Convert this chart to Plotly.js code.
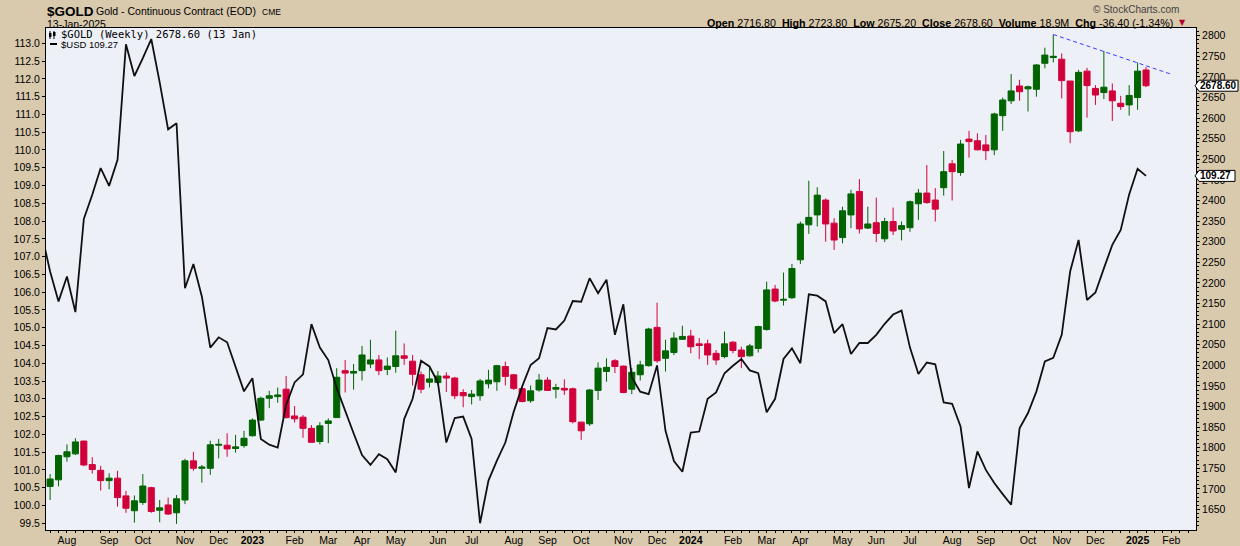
<!DOCTYPE html>
<html><head><meta charset="utf-8">
<script src="https://cdn.plot.ly/plotly-3.0.1.min.js"></script>
<style>html,body{margin:0;padding:0;background:#D9C9AD;}#chart{width:1240px;height:546px;}</style>
</head><body><div id="chart"></div>
<script>
// Weekly bars (Monday dates). First date only carries a $USD value (clipped at the left edge).
const weekDates = [
'2022-07-11','2022-07-18','2022-07-25','2022-08-01','2022-08-08','2022-08-15','2022-08-22','2022-08-29',
'2022-09-05','2022-09-12','2022-09-19','2022-09-26','2022-10-03','2022-10-10','2022-10-17','2022-10-24','2022-10-31',
'2022-11-07','2022-11-14','2022-11-21','2022-11-28','2022-12-05','2022-12-12','2022-12-19','2022-12-26',
'2023-01-02','2023-01-09','2023-01-16','2023-01-23','2023-01-30','2023-02-06','2023-02-13','2023-02-20','2023-02-27',
'2023-03-06','2023-03-13','2023-03-20','2023-03-27','2023-04-03','2023-04-10','2023-04-17','2023-04-24',
'2023-05-01','2023-05-08','2023-05-15','2023-05-22','2023-05-29','2023-06-05','2023-06-12','2023-06-19','2023-06-26',
'2023-07-03','2023-07-10','2023-07-17','2023-07-24','2023-07-31','2023-08-07','2023-08-14','2023-08-21','2023-08-28',
'2023-09-04','2023-09-11','2023-09-18','2023-09-25','2023-10-02','2023-10-09','2023-10-16','2023-10-23','2023-10-30',
'2023-11-06','2023-11-13','2023-11-20','2023-11-27','2023-12-04','2023-12-11','2023-12-18','2023-12-25',
'2024-01-01','2024-01-08','2024-01-15','2024-01-22','2024-01-29','2024-02-05','2024-02-12','2024-02-19','2024-02-26',
'2024-03-04','2024-03-11','2024-03-18','2024-03-25','2024-04-01','2024-04-08','2024-04-15','2024-04-22','2024-04-29',
'2024-05-06','2024-05-13','2024-05-20','2024-05-27','2024-06-03','2024-06-10','2024-06-17','2024-06-24',
'2024-07-01','2024-07-08','2024-07-15','2024-07-22','2024-07-29','2024-08-05','2024-08-12','2024-08-19','2024-08-26',
'2024-09-02','2024-09-09','2024-09-16','2024-09-23','2024-09-30','2024-10-07','2024-10-14','2024-10-21','2024-10-28',
'2024-11-04','2024-11-11','2024-11-18','2024-11-25','2024-12-02','2024-12-09','2024-12-16','2024-12-23','2024-12-30',
'2025-01-06','2025-01-13'];

const goldDates = weekDates.slice(1);
const goldOpen = [1706,1722,1778,1785,1816,1759,1745,1720,1726,1683,1647,1667,1703,1648,1661,1642,1673,1768,1750,1750,
1806,1806,1798,1805,1829,1867,1920,1924,1942,1877,1874,1847,1815,1859,1873,1987,1981,1987,2003,2013,
1990,1997,2023,2010,1977,1959,1958,1974,1969,1934,1924,1926,1955,1960,1997,1977,1943,1914,1940,1964,
1942,1944,1943,1862,1858,1939,1985,2011,1998,1942,1977,1999,2092,2017,2031,2063,2071,2052,2052,2029,
2021,2056,2037,2023,2041,2087,2185,2158,2164,2256,2341,2365,2401,2345,2310,2365,2422,2333,2346,2307,
2349,2330,2334,2392,2418,2401,2431,2489,2468,2549,2545,2535,2523,2606,2642,2678,2671,2670,2733,2747,
2743,2690,2569,2714,2672,2662,2666,2636,2632,2650,2716.8];
const goldHigh = [1736,1783,1808,1823,1817,1777,1756,1738,1744,1695,1684,1736,1705,1673,1679,1685,1773,1790,1758,1817,
1821,1835,1831,1841,1871,1924,1938,1946,1974,1901,1879,1855,1862,1871,1993,2013,2003,2047,2062,2025,
2019,2084,2053,2025,1985,1993,1986,1983,1972,1942,1940,1967,1989,2001,2009,1979,1948,1951,1979,1971,
1955,1966,1946,1863,1942,2007,2017,2015,1999,1993,2011,2091,2152,2062,2080,2096,2086,2066,2062,2037,
2082,2059,2045,2052,2096,2203,2195,2225,2246,2349,2448,2432,2405,2357,2385,2426,2452,2385,2407,2358,
2383,2349,2400,2428,2486,2430,2520,2498,2547,2569,2563,2559,2613,2650,2707,2693,2679,2731,2771,2803,
2757,2690,2717,2722,2680,2763,2684,2654,2680,2735,2723.8];
const goldLow = [1673,1706,1766,1782,1755,1737,1696,1699,1657,1642,1618,1661,1642,1619,1637,1615,1663,1744,1715,1734,
1774,1778,1788,1800,1827,1865,1896,1909,1871,1861,1824,1813,1808,1811,1873,1934,1941,1963,1993,1976,
1976,1982,2001,1951,1932,1946,1952,1935,1918,1898,1905,1914,1944,1938,1951,1940,1910,1909,1936,1938,
1920,1928,1859,1819,1853,1916,1960,1981,1932,1930,1963,1997,2006,1985,2025,2062,2029,2015,2001,2001,
2017,2029,1993,2021,2031,2084,2153,2145,2161,2246,2319,2337,2300,2280,2296,2333,2320,2331,2299,2299,
2316,2303,2324,2353,2392,2349,2412,2400,2460,2504,2522,2498,2510,2569,2634,2642,2616,2652,2721,2735,
2648,2539,2566,2601,2632,2646,2593,2620,2606,2620,2675.2];
const goldClose = [1724,1781,1790,1814,1758,1747,1720,1726,1679,1653,1671,1707,1645,1654,1639,1676,1768,1750,1753,1807,
1808,1797,1802,1823,1867,1920,1926,1928,1873,1870,1847,1813,1853,1865,1971,1981,1985,2025,2013,1987,
1998,2023,2017,1978,1942,1967,1974,1969,1926,1926,1930,1962,1964,1999,1973,1944,1912,1938,1964,1939,
1946,1940,1863,1841,1940,1993,1995,1997,1934,1983,2001,2088,2011,2035,2066,2070,2045,2048,2025,2013,
2052,2036,2021,2047,2094,2183,2156,2160,2235,2343,2359,2413,2343,2304,2375,2416,2331,2343,2320,2349,
2326,2339,2397,2418,2395,2379,2470,2470,2537,2543,2523,2521,2610,2644,2666,2664,2676,2729,2753,2750,
2691,2567,2711,2679,2656,2675,2642,2628,2655,2714,2678.6];

const usdValues = [107.64,106.58,105.74,106.44,105.44,108.06,108.74,109.49,108.99,109.72,112.97,112.08,112.58,113.12,
111.90,110.58,110.75,106.11,106.79,105.88,104.44,104.73,104.59,103.91,103.21,103.58,101.87,101.71,101.63,102.83,
103.46,103.69,105.10,104.44,104.09,103.30,102.64,102.03,101.42,101.14,101.44,101.30,100.93,102.43,103.00,104.07,
103.91,103.46,101.77,102.46,102.50,101.87,99.50,100.70,101.26,101.77,102.64,103.35,103.95,104.14,104.99,104.95,
105.20,105.75,105.73,106.39,105.97,106.35,104.80,105.66,103.60,103.20,103.13,103.94,102.10,101.25,100.95,102.05,
102.08,103.00,103.18,103.72,103.93,104.12,103.80,103.72,102.62,103.00,104.12,104.42,104.00,105.94,105.90,105.74,
104.85,105.10,104.26,104.57,104.57,104.80,105.11,105.37,105.48,104.44,103.70,104.02,103.97,102.90,102.86,102.22,
100.49,101.52,101.00,100.63,100.32,100.02,102.17,102.60,103.21,104.05,104.15,104.80,106.58,107.47,105.78,105.99,
106.67,107.33,107.75,108.75,109.47,109.27];

// Resistance trendline drawn on the chart (dates, gold prices)
const trendDates = ['2024-10-28','2025-02-03'];
const trendPrices = [2803, 2706.4];

const monthTickDates = ['2022-08-01','2022-09-05','2022-10-03','2022-11-07','2022-12-05','2023-01-02','2023-02-06',
'2023-03-06','2023-04-03','2023-05-01','2023-06-05','2023-07-03','2023-08-07','2023-09-04','2023-10-02','2023-11-06',
'2023-12-04','2024-01-01','2024-02-05','2024-03-04','2024-04-01','2024-05-06','2024-06-03','2024-07-01','2024-08-05',
'2024-09-02','2024-10-07','2024-11-04','2024-12-02','2025-01-06','2025-02-03'];
const monthTickLabels = ['Aug','Sep','Oct','Nov','Dec','<b>2023</b>','Feb','Mar','Apr','May','Jun','Jul','Aug','Sep',
'Oct','Nov','Dec','<b>2024</b>','Feb','Mar','Apr','May','Jun','Jul','Aug','Sep','Oct','Nov','Dec','<b>2025</b>','Feb'];

const lastGold = goldClose[goldClose.length-1];
const lastUsd = usdValues[usdValues.length-1];

const GREEN = '#006400', RED = '#D2003A', TAN = '#D9C9AD', PLOTBG = '#EEF0F8';
const L = 46, R = 1196, T = 28, B = 530;
const px = x => (x - L) / (R - L);
const py = y => (B - y) / (B - T);
const AXF = 'Liberation Sans, Arial, sans-serif';

const gY0 = 1600.2, gY1 = 2818.7, uY0 = 99.31, uY1 = 113.43;
const gPerPx = (gY1 - gY0) / (B - T), uPerPx = (uY1 - uY0) / (B - T);

function tag(val, yref, perPx, xRight) {
  const h = 5.5 * perPx;
  return {type:'path', xref:'paper', yref:yref, layer:'above',
    path:`M ${px(1195)},${val} L ${px(1199)},${val+h} L ${px(xRight)},${val+h} L ${px(xRight)},${val-h} L ${px(1199)},${val-h} Z`,
    fillcolor:'#FFFFFF', line:{color:'#000', width:1}};
}

const traces = [
  {type:'candlestick', x:goldDates, open:goldOpen, high:goldHigh, low:goldLow, close:goldClose,
   xaxis:'x', yaxis:'y', whiskerwidth:0, hoverinfo:'skip',
   increasing:{line:{color:GREEN, width:1}, fillcolor:GREEN},
   decreasing:{line:{color:RED, width:1}, fillcolor:RED}},
  {type:'scatter', mode:'lines', x:trendDates, y:trendPrices, xaxis:'x', yaxis:'y',
   line:{color:'#3C3CFF', width:1, dash:'4px,3px'}, hoverinfo:'skip'},
  {type:'scatter', mode:'lines', x:weekDates, y:usdValues, xaxis:'x', yaxis:'y2',
   line:{color:'#111111', width:1.8}, hoverinfo:'skip'}
];

const annotations = [
  {xref:'paper', yref:'paper', x:px(45), y:py(11.5), xanchor:'left', yanchor:'middle', showarrow:false,
   text:'<b>$GOLD</b>', font:{family:AXF, size:13.5, color:'#000'}},
  {xref:'paper', yref:'paper', x:px(94), y:py(11), xanchor:'left', yanchor:'middle', showarrow:false,
   text:'Gold - Continuous Contract (EOD)', font:{family:AXF, size:10.5, color:'#000'}},
  {xref:'paper', yref:'paper', x:px(260), y:py(12), xanchor:'left', yanchor:'middle', showarrow:false,
   text:'CME', font:{family:AXF, size:8.5, color:'#000'}},
  {xref:'paper', yref:'paper', x:px(45), y:py(23.5), xanchor:'left', yanchor:'middle', showarrow:false,
   text:'13-Jan-2025', font:{family:AXF, size:10.5, color:'#000'}},
  {xref:'paper', yref:'paper', x:px(1181), y:py(9.5), xanchor:'right', yanchor:'middle', showarrow:false,
   text:'© StockCharts.com', font:{family:AXF, size:10, color:'#444'}},
  {xref:'paper', yref:'paper', x:px(1175), y:py(22.5), xanchor:'right', yanchor:'middle', showarrow:false,
   text:'<b>Open</b> 2716.80  <b>High</b> 2723.80  <b>Low</b> 2675.20  <b>Close</b> 2678.60  <b>Volume</b> 18.9M  <b>Chg</b> -36.40 (-1.34%)',
   font:{family:AXF, size:10.7, color:'#000'}},
  {xref:'paper', yref:'paper', x:px(1177), y:py(22.5), xanchor:'left', yanchor:'middle', showarrow:false,
   text:'▼', font:{family:'DejaVu Sans', size:8, color:'#B00030'}},
  {xref:'paper', yref:'paper', x:px(59), y:py(34.5), xanchor:'left', yanchor:'middle', showarrow:false,
   text:'$GOLD (Weekly) ' + lastGold.toFixed(2) + ' (13 Jan)', font:{family:'DejaVu Sans Mono, monospace', size:10.5, color:'#000'}},
  {xref:'paper', yref:'paper', x:px(59), y:py(44.5), xanchor:'left', yanchor:'middle', showarrow:false,
   text:'$USD ' + lastUsd.toFixed(2), font:{family:AXF, size:9.5, color:'#000'}},
  {xref:'paper', yref:'y', x:px(1218.5), y:lastGold, xanchor:'center', yanchor:'middle', showarrow:false,
   text:'<b>' + lastGold.toFixed(2) + '</b>', font:{family:AXF, size:10, color:'#000'}},
  {xref:'paper', yref:'y2', x:px(1216), y:lastUsd, xanchor:'center', yanchor:'middle', showarrow:false,
   text:'<b>' + lastUsd.toFixed(2) + '</b>', font:{family:AXF, size:10, color:'#000'}}
];

const shapes = [
  // legend icons
  {type:'line', xref:'paper', yref:'paper', x0:px(50), x1:px(50), y0:py(31), y1:py(39), line:{color:'#000', width:1}},
  {type:'rect', xref:'paper', yref:'paper', x0:px(49), x1:px(51.5), y0:py(33), y1:py(37), fillcolor:'#000', line:{width:0}},
  {type:'line', xref:'paper', yref:'paper', x0:px(54), x1:px(54), y0:py(31), y1:py(39), line:{color:'#000', width:1}},
  {type:'rect', xref:'paper', yref:'paper', x0:px(53), x1:px(55.5), y0:py(32), y1:py(36), fillcolor:'#000', line:{width:0}},
  {type:'line', xref:'paper', yref:'paper', x0:px(50), x1:px(57), y0:py(44), y1:py(44), line:{color:'#000', width:2}},
  tag(lastGold, 'y', gPerPx, 1238),
  tag(lastUsd, 'y2', uPerPx, 1235)
];

const layout = {
  width:1240, height:546, margin:{l:L, r:1240-R, t:T, b:546-B, pad:0},
  paper_bgcolor:TAN, plot_bgcolor:PLOTBG, showlegend:false,
  boxgap:0.28, boxgroupgap:0,
  font:{family:AXF, size:10.5, color:'#000'},
  xaxis:{type:'date', range:['2022-07-14 14:17','2025-02-23 12:00'], rangeslider:{visible:false},
    tickmode:'array', tickvals:monthTickDates, ticktext:monthTickLabels, ticks:'', showgrid:false,
    showline:true, linecolor:'#000', linewidth:1, mirror:true, zeroline:false,
    tickfont:{family:AXF, size:10.5, color:'#000'},
    minor:{ticks:'outside', ticklen:2, tickcolor:'#000', dtick:604800000, tick0:'2022-07-18', showgrid:false}},
  yaxis:{side:'right', range:[gY0, gY1], tick0:1650, dtick:50, ticks:'outside', ticklen:3, tickcolor:'#000',
    showgrid:false, zeroline:false, showline:true, linecolor:'#000', linewidth:1,
    tickfont:{family:AXF, size:10.5, color:'#000'},
    minor:{ticks:'outside', ticklen:1.5, tickcolor:'#000', dtick:10, showgrid:false}},
  yaxis2:{side:'left', overlaying:'y', range:[uY0, uY1], tick0:99.5, dtick:0.5, tickformat:'.1f',
    ticks:'outside', ticklen:3, tickcolor:'#000', showgrid:false, zeroline:false, showline:true,
    linecolor:'#000', linewidth:1, tickfont:{family:AXF, size:10.5, color:'#000'}},
  annotations:annotations, shapes:shapes
};

Plotly.newPlot('chart', traces, layout, {staticPlot:true, displayModeBar:false});
</script></body></html>
